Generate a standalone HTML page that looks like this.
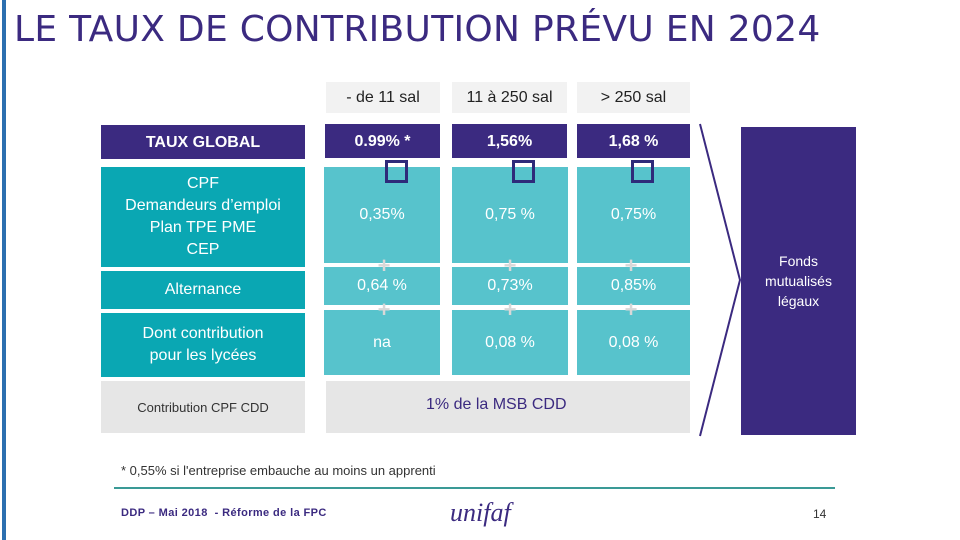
<!DOCTYPE html>
<html><head><meta charset="utf-8"><style>
body{margin:0;width:960px;height:540px;position:relative;background:#fff;overflow:hidden;font-family:"Liberation Sans",Arial,sans-serif}
.a{position:absolute;box-sizing:border-box;display:flex;align-items:center;justify-content:center;text-align:center}
.h{background:#f2f2f2;color:#222;font-size:16px}
.p{background:#3b2a80;color:#fff;font-weight:bold;font-size:16px}
.t{background:#57c3cc;color:#fff;font-size:16px}
.l{background:#0aa7b3;color:#fff;font-size:16px;line-height:22px}
.g{background:#e6e6e6;color:#333}
.sq{position:absolute;width:23px;height:23px;border:3px solid #2e2a7a;box-sizing:border-box}
.pl{position:absolute;color:#d8d8d8;font-size:22px;font-weight:bold;width:20px;text-align:center;line-height:22px}
</style></head><body>
<div style="position:absolute;left:2px;top:0;width:4px;height:540px;background:#2c6fb0"></div>
<div style="position:absolute;left:14px;top:9px;font-family:'DejaVu Sans',sans-serif;font-size:36px;letter-spacing:0.3px;color:#3b2a80;white-space:nowrap">LE TAUX DE CONTRIBUTION PRÉVU EN 2024</div>

<div class="a h" style="left:326px;top:82px;width:114px;height:31px">- de 11 sal</div>
<div class="a h" style="left:452px;top:82px;width:115px;height:31px">11 à 250 sal</div>
<div class="a h" style="left:577px;top:82px;width:113px;height:31px">&gt; 250 sal</div>

<div class="a p" style="left:101px;top:125px;width:204px;height:34px;padding-top:2px">TAUX GLOBAL</div>
<div class="a p" style="left:325px;top:124px;width:115px;height:34px;padding-top:2px">0.99% *</div>
<div class="a p" style="left:452px;top:124px;width:115px;height:34px;padding-top:2px">1,56%</div>
<div class="a p" style="left:577px;top:124px;width:113px;height:34px;padding-top:2px">1,68 %</div>

<div class="a l" style="left:101px;top:167px;width:204px;height:100px">CPF<br>Demandeurs d’emploi<br>Plan TPE PME<br>CEP</div>
<div class="a l" style="left:101px;top:271px;width:204px;height:38px">Alternance</div>
<div class="a l" style="left:101px;top:313px;width:204px;height:64px">Dont contribution<br>pour les lycées</div>
<div class="a g" style="left:101px;top:381px;width:204px;height:52px;font-size:13px">Contribution CPF CDD</div>

<div class="a t" style="left:324px;top:167px;width:116px;height:96px">0,35%</div>
<div class="a t" style="left:452px;top:167px;width:116px;height:96px">0,75 %</div>
<div class="a t" style="left:577px;top:167px;width:113px;height:96px">0,75%</div>
<div class="a t" style="left:324px;top:267px;width:116px;height:38px">0,64 %</div>
<div class="a t" style="left:452px;top:267px;width:116px;height:38px">0,73%</div>
<div class="a t" style="left:577px;top:267px;width:113px;height:38px">0,85%</div>
<div class="a t" style="left:324px;top:310px;width:116px;height:65px">na</div>
<div class="a t" style="left:452px;top:310px;width:116px;height:65px">0,08 %</div>
<div class="a t" style="left:577px;top:310px;width:113px;height:65px">0,08 %</div>

<div class="sq" style="left:385px;top:160px"></div>
<div class="sq" style="left:512px;top:160px"></div>
<div class="sq" style="left:631px;top:160px"></div>

<div class="pl" style="left:374px;top:255px">+</div>
<div class="pl" style="left:500px;top:255px">+</div>
<div class="pl" style="left:621px;top:255px">+</div>
<div class="pl" style="left:374px;top:299px">+</div>
<div class="pl" style="left:500px;top:299px">+</div>
<div class="pl" style="left:621px;top:299px">+</div>

<div class="g" style="position:absolute;left:326px;top:381px;width:364px;height:52px;box-sizing:border-box"><span style="position:absolute;left:100px;top:15px;font-size:16px;color:#3b2a80">1%  de la MSB CDD</span></div>

<svg style="position:absolute;left:0;top:0" width="960" height="540"><polyline points="700,124 740,280 700,436" fill="none" stroke="#3b2a80" stroke-width="2"/></svg>
<div class="a" style="left:741px;top:127px;width:115px;height:308px;background:#3b2a80;color:#fff;font-size:14px;line-height:20px">Fonds<br>mutualisés<br>légaux</div>

<div style="position:absolute;left:121px;top:463px;font-size:13px;color:#333">* 0,55% si l'entreprise embauche au moins un apprenti</div>
<div style="position:absolute;left:114px;top:487px;width:721px;height:2px;background:#3a9a96"></div>
<div style="position:absolute;left:121px;top:507px;font-size:11px;font-weight:bold;color:#3b2a80;letter-spacing:0.4px">DDP – Mai 2018 &nbsp;- Réforme de la FPC</div>
<div style="position:absolute;left:450px;top:498px;font-family:'Liberation Serif',serif;font-style:italic;font-size:26px;color:#3b2a80">unifaf</div>
<div style="position:absolute;left:813px;top:507px;font-size:12px;color:#333">14</div>
</body></html>
